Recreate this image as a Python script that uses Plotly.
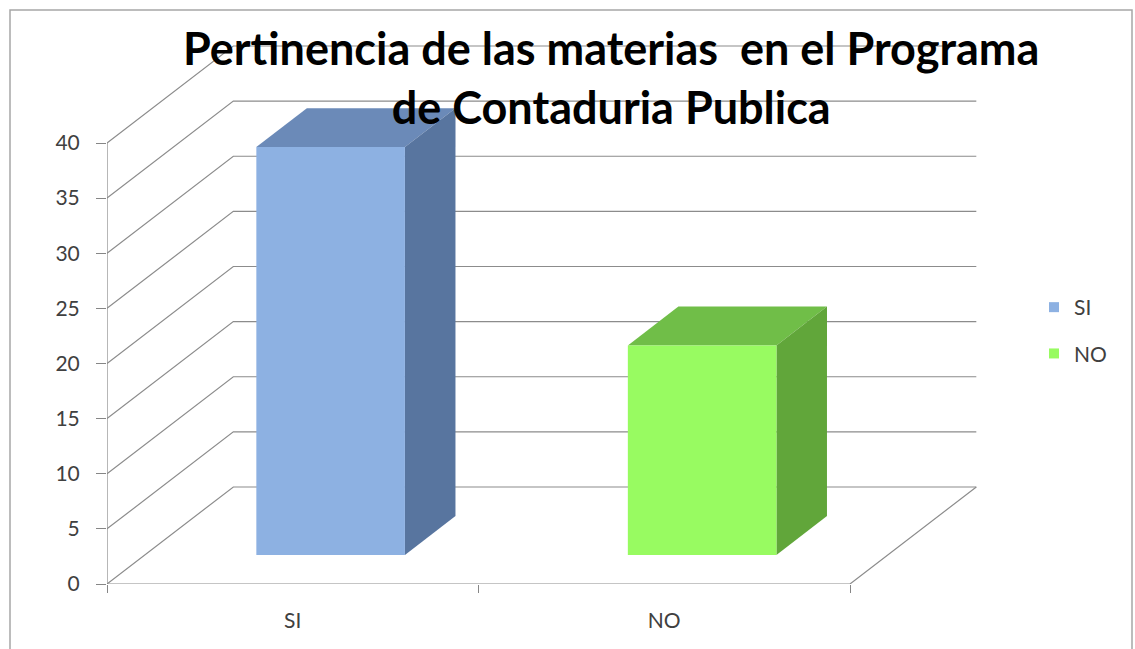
import plotly.graph_objects as go

# ---- data ----
categories = ["SI", "NO"]
values = [37, 19]
y_ticks = [0, 5, 10, 15, 20, 25, 30, 35, 40]

# ---- styling / projection parameters ----
front_cols = ["#8DB1E2", "#98FB61"]
top_cols = ["#6B8AB8", "#70BE48"]
side_cols = ["#58759F", "#61A63A"]
grid_col = "#8C8C8C"
DX = 0.34      # depth shift in category units
DY = 8.8       # depth shift in value units
D0, D1 = 0.3, 0.7   # bar depth span
BW = 0.4       # bar width (category fraction)

PX_PER_CAT = 371.5
PX_PER_VAL = 11.025
L, T = 107, 30
PLOT_W = 1000 - L
PLOT_H = 584 - T

fig = go.Figure()

def line(xs, ys, color=grid_col, width=1.2):
    fig.add_trace(go.Scatter(x=xs, y=ys, mode="lines", line=dict(color=color, width=width),
                             hoverinfo="skip", showlegend=False))

ymax = max(y_ticks)
ncat = len(categories)
# left wall diagonals and back wall gridlines
for v in y_ticks:
    line([0, DX, ncat + DX], [v, v + DY, v + DY])
# floor right edge and front floor line
line([0, ncat, ncat + DX], [0, 0, DY])
# front vertical axis
line([0, 0], [0, ymax], color="#868686", width=1.2)

# bars (3D oblique projection)
for i, (cat, v) in enumerate(zip(categories, values)):
    x0 = i + (1 - BW) / 2
    x1 = x0 + BW
    fx0, fx1 = x0 + D0 * DX, x1 + D0 * DX
    bx0, bx1 = x0 + D1 * DX, x1 + D1 * DX
    fy0, fy1 = D0 * DY, D0 * DY + v
    by0, by1 = D1 * DY, D1 * DY + v
    # top face
    fig.add_trace(go.Scatter(x=[fx0, fx1, bx1, bx0, fx0], y=[fy1, fy1, by1, by1, fy1],
                             fill="toself", fillcolor=top_cols[i], mode="lines",
                             line=dict(width=0, color=top_cols[i]), hoverinfo="skip", showlegend=False))
    # side face
    fig.add_trace(go.Scatter(x=[fx1, bx1, bx1, fx1, fx1], y=[fy0, by0, by1, fy1, fy0],
                             fill="toself", fillcolor=side_cols[i], mode="lines",
                             line=dict(width=0, color=side_cols[i]), hoverinfo="skip", showlegend=False))
    # front face
    fig.add_trace(go.Scatter(x=[fx0, fx1, fx1, fx0, fx0], y=[fy0, fy0, fy1, fy1, fy0],
                             fill="toself", fillcolor=front_cols[i], mode="lines",
                             line=dict(width=0, color=front_cols[i]), name=cat,
                             hovertemplate=f"{cat}: {v}<extra></extra>", showlegend=False))
    # legend entry
    fig.add_trace(go.Scatter(x=[None], y=[None], mode="markers", name=cat, legendgroup=cat,
                             marker=dict(symbol="square", size=10, color=front_cols[i])))

xr = [0, PLOT_W / PX_PER_CAT]
yr = [0, PLOT_H / PX_PER_VAL]

def px_x(p):
    return (p - L) / PLOT_W

def px_y(p):
    return (584 - p) / PLOT_H

fig.update_layout(
    width=1135, height=649,
    margin=dict(l=L, r=1135 - 1000, t=T, b=649 - 584),
    paper_bgcolor="white", plot_bgcolor="white",
    font=dict(family="Lato, Liberation Sans, sans-serif", color="#404040", size=21),
    xaxis=dict(range=xr, showgrid=False, zeroline=False, showline=False,
               tickvals=[i + 0.5 for i in range(ncat)], ticktext=categories,
               ticks="", ticklabelstandoff=22, fixedrange=True,
               minor=dict(tickvals=list(range(ncat + 1)), ticks="outside", ticklen=8,
                          tickcolor="#868686", showgrid=False)),
    yaxis=dict(range=yr, showgrid=False, zeroline=False, showline=False,
               tickvals=y_ticks, ticks="outside", ticklen=10, tickcolor="#868686",
               ticklabelstandoff=12, fixedrange=True),
    legend=dict(x=px_x(1034), y=px_y(287), xanchor="left", yanchor="top",
                font=dict(size=21, color="#404040"), tracegroupgap=16,
                bgcolor="rgba(0,0,0,0)"),
    shapes=[dict(type="rect", xref="paper", yref="paper",
                 x0=px_x(10), x1=px_x(1132), y0=px_y(700), y1=px_y(10),
                 line=dict(color="#A6A6A6", width=1.5), layer="below")],
    annotations=[dict(text="Pertinencia de las materias  en el Programa<br>de Contaduria Publica",
                      xref="paper", yref="paper", x=px_x(611), y=px_y(77),
                      xanchor="center", yanchor="middle", showarrow=False,
                      font=dict(family="Lato, Liberation Sans, sans-serif", size=45, color="#000000",
                                weight="bold"))],
)

fig.write_html("out.html", post_script="document.body.style.margin='0';",
               config={"displayModeBar": False})
